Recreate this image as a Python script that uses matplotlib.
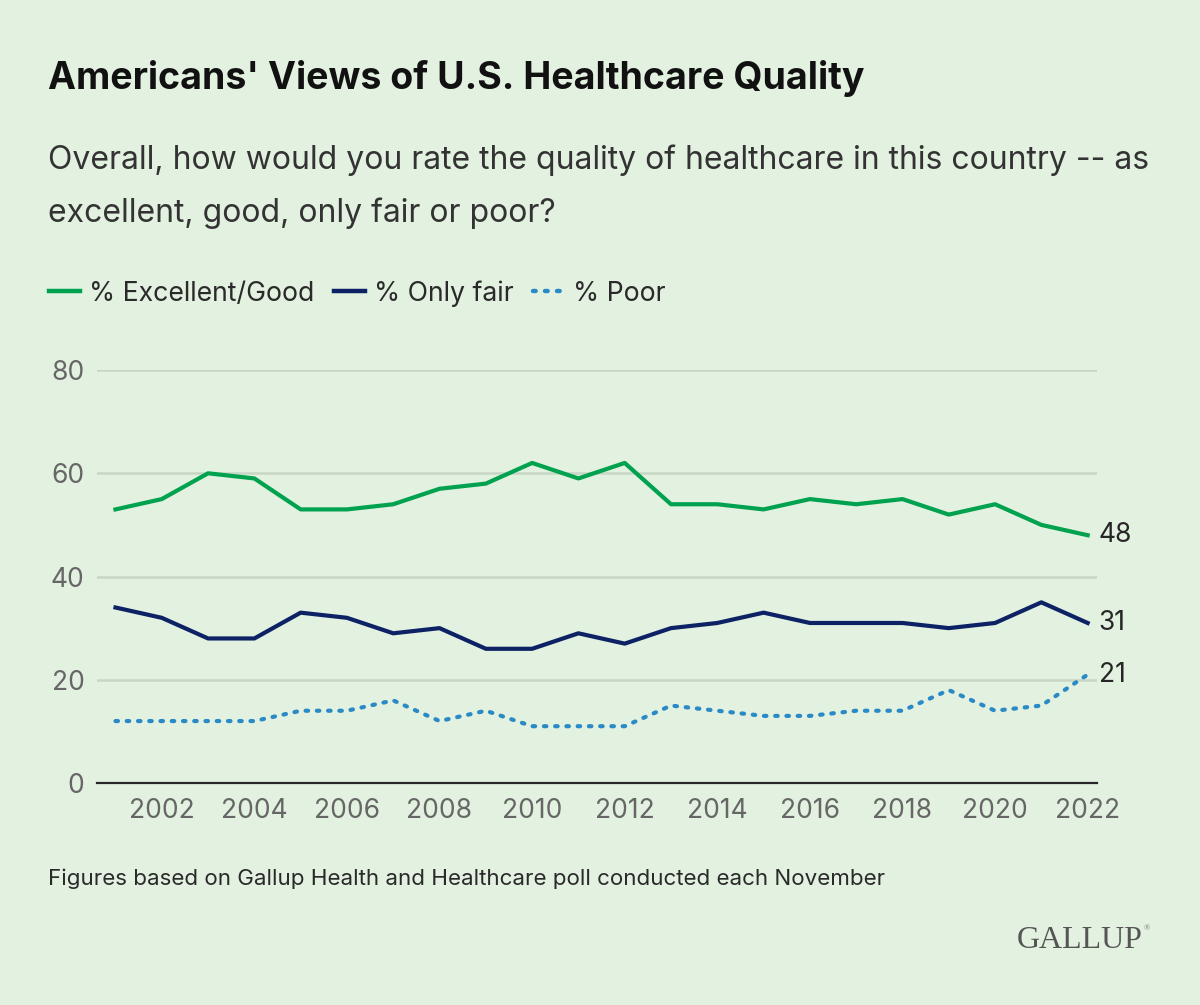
import matplotlib
matplotlib.use("Agg")
import matplotlib.pyplot as plt
from matplotlib.lines import Line2D

years = list(range(2001, 2023))
excellent_good = [53, 55, 60, 59, 53, 53, 54, 57, 58, 62, 59, 62, 54, 54, 53, 55, 54, 55, 52, 54, 50, 48]
only_fair = [34, 32, 28, 28, 33, 32, 29, 30, 26, 26, 29, 27, 30, 31, 33, 31, 31, 31, 30, 31, 35, 31]
poor = [12, 12, 12, 12, 14, 14, 16, 12, 14, 11, 11, 11, 15, 14, 13, 13, 14, 14, 18, 14, 15, 21]
x_ticks = list(range(2002, 2023, 2))
y_ticks = [0, 20, 40, 60, 80]
series_names = ["% Excellent/Good", "% Only fair", "% Poor"]

BG = "#e3f1e0"
GREEN = "#00a24f"
NAVY = "#0c2264"
BLUE = "#2a8ac6"
GRID = "#c8d7c5"
TICK = "#666666"
DARK = "#262626"
DOTS = (0, (0.6, 2.1))

plt.rcParams['font.family'] = ['Inter', 'DejaVu Sans']

fig = plt.figure(figsize=(12, 10.05), dpi=100, facecolor=BG)
ax = fig.add_axes([0.0808, 0.2209, 0.8333, 0.4109], facecolor=BG)

ax.plot(years, excellent_good, color=GREEN, lw=3.0, clip_on=False)
ax.plot(years, only_fair, color=NAVY, lw=3.0, clip_on=False)
ax.plot(years, poor, color=BLUE, lw=3.0, linestyle=DOTS, dash_capstyle='round', clip_on=False)

ax.set_xlim(2000.6, 2022.2)
ax.set_ylim(0, 80)
ax.set_yticks(y_ticks)
ax.set_xticks(x_ticks)
ax.tick_params(axis='both', length=0, labelsize=19, colors=TICK, labelcolor=TICK)
ax.tick_params(axis='y', pad=9)
ax.tick_params(axis='x', pad=11)
ax.grid(axis='y', color=GRID, lw=1.8)
ax.set_axisbelow(True)
for s in ['top', 'right', 'left']:
    ax.spines[s].set_visible(False)
ax.spines['bottom'].set_color(DARK)
ax.spines['bottom'].set_linewidth(1.6)

for vals in (excellent_good, only_fair, poor):
    ax.annotate(str(vals[-1]), xy=(years[-1], vals[-1]), xytext=(8, 0), textcoords='offset points',
                va='center', ha='left', fontsize=19, color=DARK, annotation_clip=False)

fig.text(0.04, 0.922, "Americans' Views of U.S. Healthcare Quality", fontsize=27, fontweight='bold',
         color='#111111', va='center')
fig.text(0.04, 0.841, "Overall, how would you rate the quality of healthcare in this country -- as",
         fontsize=23, color='#333333', va='center')
fig.text(0.04, 0.788, "excellent, good, only fair or poor?", fontsize=23, color='#333333', va='center')

handles = [Line2D([], [], color=GREEN, lw=3.2),
           Line2D([], [], color=NAVY, lw=3.2),
           Line2D([], [], color=BLUE, lw=3.2, linestyle=DOTS, dash_capstyle='round')]
fig.legend(handles, series_names, loc='center left', bbox_to_anchor=(0.041, 0.708), ncol=3,
           frameon=False, fontsize=19.2, handlelength=1.17, handletextpad=0.34, columnspacing=0.72,
           labelcolor='#2a2a2a', borderaxespad=0, borderpad=0)

fig.text(0.04, 0.126, "Figures based on Gallup Health and Healthcare poll conducted each November",
         fontsize=16.1, color='#2a2a2a', va='center')
fig.text(0.952, 0.064, "GALLUP", fontsize=23, color='#555555', family=['Liberation Serif', 'DejaVu Serif'],
         ha='right', va='center')
fig.text(0.953, 0.076, "\u00ae", fontsize=6, color='#777777', family=['Liberation Serif', 'DejaVu Serif'],
         ha='left', va='center')

fig.savefig("out.png", dpi=100, facecolor=BG)
